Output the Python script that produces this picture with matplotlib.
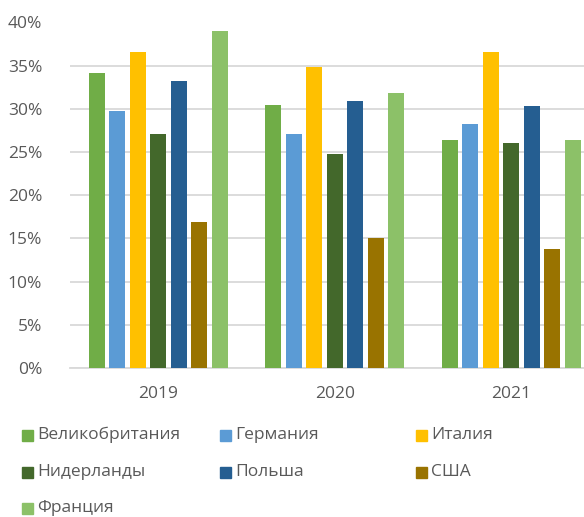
import matplotlib
matplotlib.use('Agg')
import matplotlib.pyplot as plt
from matplotlib.patches import Rectangle
from matplotlib.ticker import PercentFormatter

years = ["2019", "2020", "2021"]
countries = ["Великобритания", "Германия", "Италия", "Нидерланды", "Польша", "США", "Франция"]
colors = ["#70ad47", "#5b9bd5", "#ffc000", "#43682b", "#255e91", "#997300", "#8cc168"]

# share by country, one value per year
uk = [34.1, 30.4, 26.4]
germany = [29.8, 27.1, 28.2]
italy = [36.6, 34.8, 36.6]
netherlands = [27.1, 24.8, 26.1]
poland = [33.2, 30.9, 30.3]
usa = [16.9, 15.0, 13.8]
france = [39.0, 31.8, 26.4]
series = [uk, germany, italy, netherlands, poland, usa, france]

plt.rcParams['font.family'] = ['Open Sans', 'DejaVu Sans']
text_color = "#595959"
grid_color = "#d9d9d9"
fs = 12.5

fig = plt.figure(figsize=(5.84, 5.17), dpi=100)
ax = fig.add_axes([70 / 584, 1 - 368 / 517, 1 - 70 / 584, (368 - 22.5) / 517])

pitch = 0.116
width = 0.091
x = range(len(years))
for j, (vals, c) in enumerate(zip(series, colors)):
    pos = [i + (j - 3) * pitch for i in x]
    ax.bar(pos, vals, width=width, color=c, zorder=3)

ax.set_ylim(0, 40)
ax.set_xlim(-0.5, 2.412)
ax.set_yticks(range(0, 41, 5))
ax.yaxis.set_major_formatter(PercentFormatter(decimals=0))
ax.set_xticks(list(x))
ax.set_xticklabels(years)
ax.tick_params(axis='both', length=0, colors=text_color, labelsize=fs)
ax.tick_params(axis='y', pad=20)
ax.tick_params(axis='x', pad=13)
ax.grid(axis='y', color=grid_color, linewidth=1.3, zorder=0)
for s in ["top", "right", "left"]:
    ax.spines[s].set_visible(False)
ax.spines["bottom"].set_color(grid_color)
ax.spines["bottom"].set_linewidth(1.3)

# legend, 3 columns
col_x = [22, 220, 416]
row_y = [435, 472, 508]
for k, (name, c) in enumerate(zip(countries, colors)):
    px = col_x[k % 3]
    py = row_y[k // 3]
    fig.patches.append(Rectangle((px / 584, 1 - (py + 5.5) / 517), 11 / 584, 11 / 517,
                                 color=c, transform=fig.transFigure, figure=fig))
    fig.text((px + 15) / 584, 1 - py / 517, name, color=text_color, fontsize=fs,
             va='center', ha='left')

fig.savefig("out.png", dpi=100)
